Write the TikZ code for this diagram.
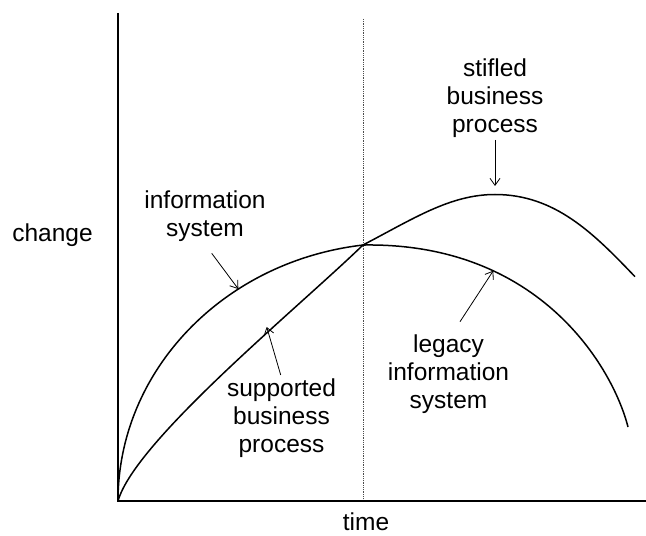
\documentclass[tikz,border=0pt]{standalone}
\usepackage{fontspec}
\setmainfont{Liberation Sans}
\usetikzlibrary{arrows.meta}

\begin{document}
\begin{tikzpicture}[x=1pt, y=1pt, lab/.style={align=center, font=\fontsize{24.5}{28}\selectfont, inner sep=0pt}, word/.style={font=\fontsize{24.5}{28}\selectfont, inner sep=0pt, anchor=base}, ax/.style={line width=2pt}, crv/.style={line width=1.5pt}, ar/.style={-{Straight Barb[length=7pt, width=10pt]}, line width=0.8pt}, mid/.style={densely dotted, line width=0.8pt, black!70}]
            \useasboundingbox (0,0) rectangle (646,536);
            % axes
            \coordinate (o) at (118,35);
            \coordinate (ytop) at (118,523);
            \coordinate (xend) at (646,35);
            \coordinate (midtop) at (363,517);
            \coordinate (midbot) at (363,36);
            \draw [mid] (midtop) -- (midbot);
            \draw [ax] (ytop) -- (o) -- (xend);
            % labels
            \node[word] (change) at (52.5,294) {change};
            \node[word] (time) at (366,5) {time};
            \node[lab] (infolbl) at (205,320) {information\\system};
            \node[lab] (suplbl) at (281.5,118) {supported\\business\\process};
            \node[lab] (stiflbl) at (495,438) {stifled\\business\\process};
            \node[lab] (leglbl) at (448.5,162) {legacy\\information\\system};
            % curves
            \coordinate (cross) at (363,291);
            \coordinate (legend) at (628,109);
            \coordinate (stifpeak) at (495,341.5);
            \coordinate (stifend) at (635,259.3);
            \draw [crv] (o) arc[start angle=180, end angle=97.18, x radius=280, y radius=258]
                .. controls (540,294) and (613,168) .. (legend);
            \draw [crv] (o) .. controls (135,95) and (298,228) .. (cross)
                .. controls (413,317) and (450,341.5) .. (stifpeak)
                .. controls (555,341.5) and (593.6,302.7) .. (stifend);
            % arrows
            \coordinate (infotail) at (211.7,282.7);
            \coordinate (infohead) at (238.3,247);
            \coordinate (suptail) at (280.7,161);
            \coordinate (suphead) at (266.7,209);
            \coordinate (stiftail) at (495,396);
            \coordinate (stifhead) at (495,350);
            \coordinate (legtail) at (460,214.3);
            \coordinate (leghead) at (493.3,265.3);
            \draw [ar] (infotail) -- (infohead);
            \draw [ar] (suptail) -- (suphead);
            \draw [ar] (stiftail) -- (stifhead);
            \draw [ar] (legtail) -- (leghead);
        \end{tikzpicture}
\end{document}
